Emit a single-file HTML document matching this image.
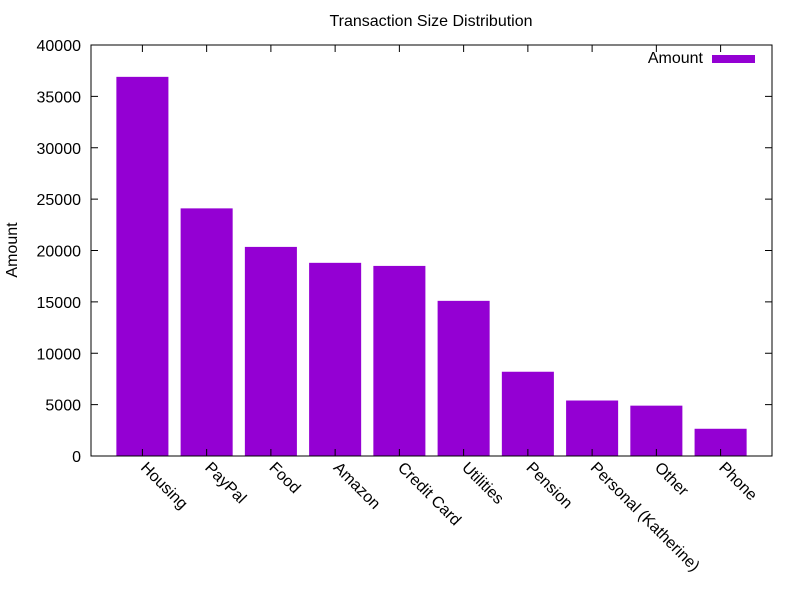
<!DOCTYPE html>
<html><head><meta charset="utf-8"><style>
body{margin:0;background:#fff;}
svg{display:block;font-family:"Liberation Sans",Arial,sans-serif;}
</style></head><body>
<svg id="chart" width="800" height="600" viewBox="0 0 800 600" xmlns="http://www.w3.org/2000/svg">
<rect width="800" height="600" fill="#fff"/>
<text x="431" y="26" text-anchor="middle" font-size="16">Transaction Size Distribution</text>
<text transform="translate(17,250) rotate(-90)" text-anchor="middle" font-size="16">Amount</text>
<g id="bars"></g>
<g id="axes"></g>
<g>
<text x="703" y="63" text-anchor="end" font-size="16">Amount</text>
<rect x="712" y="55" width="43" height="8" fill="#9400d3"/>
</g>
</svg>
<script>
const categories=["Housing","PayPal","Food","Amazon","Credit Card","Utilities","Pension","Personal (Katherine)","Other","Phone"];
const amounts=[36900,24100,20350,18800,18500,15100,8200,5400,4900,2650];
const yTicks=[0,5000,10000,15000,20000,25000,30000,35000,40000];
const L=91,R=772,T=45,B=456;
const xMin=-0.8,xMax=9.8,yMax=40000;
const ns="http://www.w3.org/2000/svg";
function xs(i){return L+(i-xMin)/(xMax-xMin)*(R-L);}
function ys(v){return B-v/yMax*(B-T);}
function mk(tag,attrs,parent){const e=document.createElementNS(ns,tag);for(const k in attrs)e.setAttribute(k,attrs[k]);parent.appendChild(e);return e;}
const bars=document.getElementById('bars'),axes=document.getElementById('axes');
const bw=0.81*(xs(1)-xs(0));
amounts.forEach((v,i)=>{
  const r=mk('rect',{x:xs(i)-bw/2,y:ys(v),width:bw,height:ys(0)-ys(v),fill:'#9400d3'},bars);
  
  
});
const frame=mk('rect',{x:L,y:T,width:R-L,height:B-T,fill:'none',stroke:'#000','stroke-width':1},axes);


yTicks.forEach(t=>{
  const y=ys(t);
  mk('line',{x1:L,y1:y,x2:L+7,y2:y,stroke:'#000'},axes);
  mk('line',{x1:R,y1:y,x2:R-7,y2:y,stroke:'#000'},axes);
  const tx=mk('text',{x:L-10,y:y+6,'text-anchor':'end','font-size':16},axes);
  tx.textContent=t;
  
  
});
categories.forEach((c,i)=>{
  const x=xs(i);
  mk('line',{x1:x,y1:B,x2:x,y2:B-7,stroke:'#000'},axes);
  mk('line',{x1:x,y1:T,x2:x,y2:T+7,stroke:'#000'},axes);
  const tx=mk('text',{transform:'translate('+(x+1)+','+(B+9)+') rotate(45)','font-size':16,y:5},axes);
  tx.textContent=c;
  
  
});
</script>
</body></html>
